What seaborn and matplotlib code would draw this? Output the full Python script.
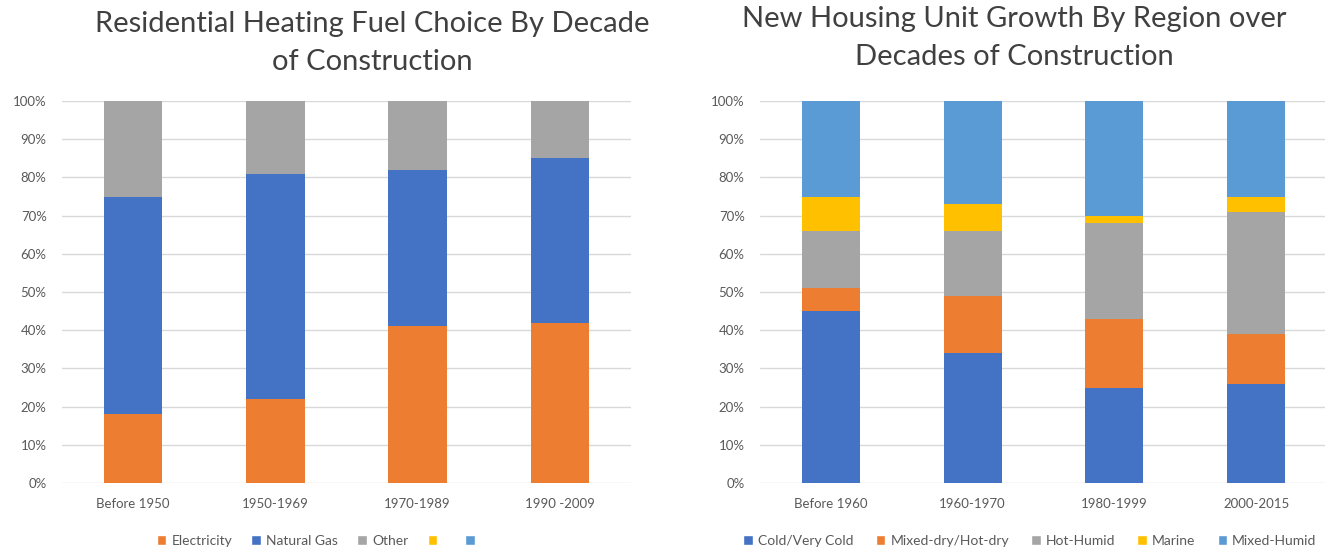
import matplotlib
matplotlib.use("Agg")
from matplotlib import pyplot as plt
from matplotlib.patches import Patch
from matplotlib.ticker import PercentFormatter
import numpy as np
import pandas as pd
import seaborn as sns

# left chart: heating fuel by decade (percent of homes)
fuel_decades = ["Before 1950", "1950-1969", "1970-1989", "1990 -2009"]
electricity = [18, 22, 41, 42]
natural_gas = [57, 59, 41, 43]
other_fuel = [25, 19, 18, 15]

# right chart: housing growth by climate region
region_decades = ["Before 1960", "1960-1970", "1980-1999", "2000-2015"]
cold = [45, 34, 25, 26]
mixed_dry = [6, 15, 18, 13]
hot_humid = [15, 17, 25, 32]
marine = [9, 7, 2, 4]
mixed_humid = [25, 27, 30, 25]

ORANGE = "#ED7D31"
BLUE = "#4472C4"
GREY = "#A5A5A5"
YELLOW = "#FFC000"
LBLUE = "#5B9BD5"
TXT = "#595959"

sns.set_theme(style="white")
plt.rcParams["font.family"] = ["Lato", "DejaVu Sans"]


def stacked(ax, cats, series, colors):
    # draw cumulative totals from the top layer down so each layer shows
    df = pd.DataFrame(dict(zip(range(len(series)), series)), index=cats)
    cum = df.cumsum(axis=1)
    for i in reversed(range(len(series))):
        sns.barplot(x=cats, y=cum[i].values, color=colors[i], width=0.41,
                    saturation=1, ax=ax, zorder=3, linewidth=0)
    ax.set_ylim(0, 100)
    ax.set_xlim(-0.5, len(cats) - 0.5)
    ax.set_yticks(np.arange(0, 101, 10))
    ax.yaxis.set_major_formatter(PercentFormatter(decimals=0))
    ax.grid(axis="y", color="#D9D9D9", linewidth=1, zorder=0)
    for s in ax.spines.values():
        s.set_visible(False)
    ax.tick_params(axis="both", length=0, labelsize=9.5, labelcolor=TXT)
    ax.tick_params(axis="y", pad=11)
    ax.tick_params(axis="x", pad=11)
    ax.set_ylabel("")


fig = plt.figure(figsize=(13.25, 5.5), dpi=100)
ax1 = fig.add_axes([62 / 1325, 67 / 550, 569 / 1325, 382 / 550])
ax2 = fig.add_axes([760 / 1325, 67 / 550, 567 / 1325, 382 / 550])

stacked(ax1, fuel_decades, [electricity, natural_gas, other_fuel], [ORANGE, BLUE, GREY])
stacked(ax2, region_decades, [cold, mixed_dry, hot_humid, marine, mixed_humid],
        [BLUE, ORANGE, GREY, YELLOW, LBLUE])

fig.text(372 / 1325, 1 - 43 / 550, "Residential Heating Fuel Choice By Decade\nof Construction",
         ha="center", va="center", fontsize=21, color="#404040", linespacing=1.55)
fig.text(1014 / 1325, 1 - 38 / 550, "New Housing Unit Growth By Region over\nDecades of Construction",
         ha="center", va="center", fontsize=21, color="#404040", linespacing=1.55)

leg1 = [(ORANGE, "Electricity"), (BLUE, "Natural Gas"), (GREY, "Other"), (YELLOW, " "), (LBLUE, " ")]
leg2 = [(BLUE, "Cold/Very Cold"), (ORANGE, "Mixed-dry/Hot-dry"), (GREY, "Hot-Humid"),
        (YELLOW, "Marine"), (LBLUE, "Mixed-Humid")]

for items, cx, cs in [(leg1, 320, 1.4), (leg2, 1030, 1.6)]:
    handles = [Patch(facecolor=c, label=l) for c, l in items]
    fig.legend(handles=handles, loc="center", bbox_to_anchor=(cx / 1325, 9 / 550),
               ncol=5, frameon=False, fontsize=10, labelcolor=TXT,
               handlelength=0.7, handleheight=0.7, handletextpad=0.35, columnspacing=cs)

fig.savefig("out.png", dpi=100)
